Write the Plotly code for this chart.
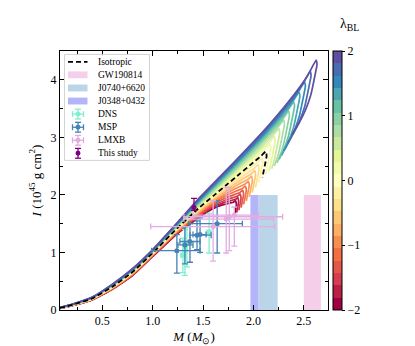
import plotly.graph_objects as go
import plotly.colors as pc

# ---------------- data ----------------
lam = [-2.0, -1.8, -1.6, -1.4, -1.2, -1.0, -0.8, -0.6, -0.4, -0.2, 0.0,
       0.2, 0.4, 0.6, 0.8, 1.0, 1.2, 1.4, 1.6, 1.8, 2.0]
# maximum-mass point of every curve
m_max = [1.830, 1.852, 1.876, 1.901, 1.928, 1.957, 1.988, 2.020, 2.055, 2.091, 2.130,
         2.171, 2.215, 2.260, 2.307, 2.356, 2.407, 2.460, 2.515, 2.571, 2.630]
i_max = [1.900, 1.953, 2.013, 2.080, 2.154, 2.236, 2.325, 2.422, 2.526, 2.637, 2.755,
         2.881, 3.014, 3.154, 3.301, 3.456, 3.618, 3.788, 3.965, 4.149, 4.340]
# stable branch read at fixed masses
m_grid = [0.08, 0.2, 0.4, 0.6, 0.8, 1.0, 1.24, 1.47]
i_m008 = [0.028, 0.029, 0.030, 0.030, 0.031, 0.032, 0.033, 0.034, 0.034, 0.035, 0.036,
          0.037, 0.038, 0.039, 0.039, 0.040, 0.041, 0.042, 0.043, 0.044, 0.045]
i_m020 = [0.075, 0.07625, 0.0775, 0.07875, 0.080, 0.08125, 0.0825, 0.08375, 0.085, 0.08625, 0.0875,
          0.08875, 0.090, 0.09125, 0.0925, 0.09375, 0.095, 0.09625, 0.0975, 0.09875, 0.100]
i_m040 = [0.175, 0.1775, 0.180, 0.1825, 0.185, 0.1875, 0.190, 0.1925, 0.195, 0.1975, 0.200,
          0.2025, 0.205, 0.2075, 0.210, 0.2125, 0.215, 0.2175, 0.220, 0.2225, 0.225]
i_m060 = [0.360, 0.3645, 0.369, 0.3735, 0.378, 0.3825, 0.387, 0.3915, 0.396, 0.4005, 0.405,
          0.4095, 0.414, 0.4185, 0.423, 0.4275, 0.432, 0.4365, 0.441, 0.4455, 0.450]
i_m080 = [0.600, 0.606, 0.612, 0.618, 0.624, 0.630, 0.636, 0.642, 0.648, 0.654, 0.660,
          0.666, 0.672, 0.678, 0.684, 0.690, 0.696, 0.702, 0.708, 0.714, 0.720]
i_m100 = [0.930, 0.936, 0.942, 0.948, 0.954, 0.960, 0.966, 0.972, 0.978, 0.984, 0.990,
          0.996, 1.002, 1.008, 1.014, 1.020, 1.026, 1.032, 1.038, 1.044, 1.050]
i_m124 = [1.320, 1.3295, 1.339, 1.3485, 1.358, 1.3675, 1.377, 1.3865, 1.396, 1.4055, 1.415,
          1.4245, 1.434, 1.4435, 1.453, 1.4625, 1.472, 1.4815, 1.491, 1.5005, 1.510]
i_m147 = [1.620, 1.637, 1.654, 1.671, 1.688, 1.705, 1.722, 1.739, 1.756, 1.773, 1.790,
          1.807, 1.824, 1.841, 1.858, 1.875, 1.892, 1.909, 1.926, 1.943, 1.960]
# shape of the approach from M=1.47 to maximum mass (fractions), soft / isotropic / stiff
approach_t = [0.20, 0.40, 0.60, 0.80, 0.92]
approach_g_soft = [0.30, 0.55, 0.72, 0.84, 0.90]
approach_g_iso = [0.20, 0.40, 0.60, 0.80, 0.92]
approach_g_stiff = [0.176, 0.353, 0.538, 0.744, 0.887]
# rounded tip and unstable branch (offsets below / left of the maximum)
tip_dm = [0.008, 0.001, 0.0]
tip_di = [0.0, 0.04, 0.09]
hook_di = [0.09, 0.20, 0.40, 0.60, 0.85, 1.10, 1.30, 1.60]
hook_dm = [0.000, 0.012, 0.035, 0.060, 0.110, 0.180, 0.250, 0.360]
hook_depth = [0.25, 0.26, 0.28, 0.30, 0.32, 0.34, 0.36, 0.38, 0.40, 0.42, 0.45,
              0.52, 0.60, 0.70, 0.80, 0.90, 1.00, 1.10, 1.20, 1.25, 1.30]
iso_index = 10  # lambda_BL = 0 is the isotropic star

band_names = ["GW190814", "J0740+6620", "J0348+0432"]
band_lo = [2.50, 2.05, 1.97]
band_hi = [2.67, 2.24, 2.05]
band_top = [2.0, 2.0, 2.0]
band_colors = ["rgb(245,207,233)", "rgb(186,212,232)", "rgb(180,180,248)"]

dns_m = [1.32, 1.34, 1.56, 1.30]
dns_i = [1.05, 1.15, 1.35, 0.95]
dns_mlo = [0.02, 0.03, 0.02, 0.02]
dns_mhi = [0.02, 0.03, 0.02, 0.02]
dns_ilo = [0.45, 0.40, 0.36, 0.30]
dns_ihi = [0.35, 0.30, 0.33, 0.30]

msp_m = [1.24, 1.64, 1.32, 1.37, 1.44, 1.47]
msp_i = [1.03, 1.50, 1.13, 1.19, 1.30, 1.31]
msp_mlo = [0.25, 0.28, 0.07, 0.10, 0.07, 0.07]
msp_mhi = [0.23, 0.25, 0.08, 0.10, 0.14, 0.06]
msp_ilo = [0.39, 0.51, 0.33, 0.36, 0.25, 0.31]
msp_ihi = [0.28, 0.40, 0.32, 0.31, 0.25, 0.29]

lmxb_m = [1.60, 1.73, 1.76, 1.81]
lmxb_i = [1.45, 1.58, 1.62, 1.65]
lmxb_mlo = [0.62, 0.42, 0.45, 0.41]
lmxb_mhi = [0.61, 0.47, 0.53, 0.24]
lmxb_ilo = [0.60, 0.59, 0.59, 0.54]
lmxb_ihi = [0.45, 0.55, 0.51, 0.14]

this_m = [1.41]
this_i = [1.78]
this_ilo = [0.05]
this_ihi = [0.16]

legend_labels = ["Isotropic", "GW190814", "J0740+6620", "J0348+0432", "DNS", "MSP", "LMXB", "This study"]

FONT = "Liberation Serif"
spectral = pc.diverging.Spectral
C_DNS, C_MSP, C_LMXB, C_THIS = "rgb(127,240,205)", "rgb(70,130,180)", "rgb(226,172,226)", "rgb(128,0,128)"

PX_L, PX_R, PX_T, PX_B = 52, 320, 43, 307
def xp(px):
    return (px - PX_L) / (PX_R - PX_L)
def yp(py):
    return (PX_B - py) / (PX_B - PX_T)


def curve_points(k):
    Mm, Im = m_max[k], i_max[k]
    lows = [i_m008[k], i_m020[k], i_m040[k], i_m060[k], i_m080[k], i_m100[k], i_m124[k], i_m147[k]]
    xs, ys = list(m_grid), list(lows)
    l = lam[k]
    g = []
    for gs, gi, gh in zip(approach_g_soft, approach_g_iso, approach_g_stiff):
        g.append(gi + (gs - gi) * max(0.0, -l / 2) + (gh - gi) * max(0.0, l / 2))
    dM, dI = Mm - m_grid[-1], Im - lows[-1]
    for t, gg in zip(approach_t, g):
        xs.append(m_grid[-1] + t * dM); ys.append(lows[-1] + gg * dI)
    for dm, di in zip(tip_dm, tip_di):
        xs.append(Mm - dm); ys.append(Im - di)
    d = hook_depth[k]
    for j in range(1, len(hook_di)):
        if hook_di[j] <= d:
            xs.append(Mm - hook_dm[j]); ys.append(Im - hook_di[j])
        else:
            a = (d - hook_di[j - 1]) / (hook_di[j] - hook_di[j - 1])
            xs.append(Mm - (hook_dm[j - 1] + a * (hook_dm[j] - hook_dm[j - 1]))); ys.append(Im - d)
            break
    return xs, ys


fig = go.Figure()
for name, lo, hi, top, col in zip(band_names, band_lo, band_hi, band_top, band_colors):
    fig.add_trace(go.Scatter(x=[lo, hi, hi, lo, lo], y=[0, 0, top, top, 0], fill="toself",
                             fillcolor=col, line=dict(width=0), mode="lines", showlegend=False, hoverinfo="skip"))

for k in range(len(lam)):
    f = (lam[k] - lam[0]) / (lam[-1] - lam[0])
    col = pc.sample_colorscale(spectral, [f])[0]
    xs, ys = curve_points(k)
    fig.add_trace(go.Scatter(x=xs, y=ys, mode="lines",
                             line=dict(color=col, width=1.7, shape="spline", smoothing=0.4),
                             showlegend=False, hoverinfo="skip"))

xs, ys = curve_points(iso_index)
fig.add_trace(go.Scatter(x=xs, y=ys, mode="lines", showlegend=False, hoverinfo="skip",
                         line=dict(color="black", width=1.8, dash="5px,3px", shape="spline", smoothing=0.4)))


def ebar(mx, iy, mlo, mhi, ilo, ihi, col):
    ex = dict(type="data", symmetric=False, array=mhi, arrayminus=mlo, color=col, thickness=1.3, width=3) if mlo is not None else None
    ey = dict(type="data", symmetric=False, array=ihi, arrayminus=ilo, color=col, thickness=1.3, width=3)
    return go.Scatter(x=mx, y=iy, mode="markers", marker=dict(color=col, size=5), showlegend=False,
                      hoverinfo="skip", error_x=ex, error_y=ey)

fig.add_trace(ebar(dns_m, dns_i, dns_mlo, dns_mhi, dns_ilo, dns_ihi, C_DNS))
fig.add_trace(ebar(msp_m, msp_i, msp_mlo, msp_mhi, msp_ilo, msp_ihi, C_MSP))
fig.add_trace(ebar(lmxb_m, lmxb_i, lmxb_mlo, lmxb_mhi, lmxb_ilo, lmxb_ihi, C_LMXB))
fig.add_trace(ebar(this_m, this_i, None, None, this_ilo, this_ihi, C_THIS))

nb = len(lam)
cs = []
for i in range(nb):
    c = pc.sample_colorscale(spectral, [i / (nb - 1)])[0]
    cs.append([i / nb, c]); cs.append([(i + 1) / nb, c])
fig.add_trace(go.Scatter(x=[None], y=[None], mode="markers", showlegend=False, hoverinfo="skip",
                         marker=dict(color=[lam[0]], cmin=lam[0], cmax=lam[-1], colorscale=cs, showscale=True,
                                     colorbar=dict(x=xp(325), xanchor="left", xpad=0, ypad=0,
                                                   y=0.5, yanchor="middle", len=1.0, thickness=9,
                                                   outlinecolor="black", outlinewidth=1,
                                                   tickvals=[-2, -1, 0, 1, 2], ticktext=["−2", "−1", "0", "1", "2"],
                                                   ticks="outside", ticklen=3, tickcolor="black",
                                                   tickfont=dict(family=FONT, size=12, color="black")))))

shapes, annos = [], []
bx0, bx1, by0, by1 = 56.5, 141.5, 46.5, 154.5
shapes.append(dict(type="rect", xref="paper", yref="paper", x0=xp(bx0), x1=xp(bx1), y0=yp(by1), y1=yp(by0),
                   line=dict(color="#d3d3d3", width=1), fillcolor="rgba(255,255,255,0.85)", layer="above"))
row_y = [54, 67.3, 80.7, 94, 107.3, 120.7, 134, 147.3]
gx0, gx1, gxc, tx = 60, 79.5, 70, 87.5
for lbl, ry in zip(legend_labels, row_y):
    annos.append(dict(x=xp(tx), y=yp(ry), xref="paper", yref="paper", text=lbl, showarrow=False,
                      xanchor="left", yanchor="middle", font=dict(family=FONT, size=9.5, color="black")))
shapes.append(dict(type="line", xref="paper", yref="paper", x0=xp(gx0), x1=xp(gx1), y0=yp(row_y[0]), y1=yp(row_y[0]),
                   line=dict(color="black", width=1.8, dash="5px,3px"), layer="above"))
for ry, col in zip(row_y[1:4], band_colors):
    shapes.append(dict(type="rect", xref="paper", yref="paper", x0=xp(gx0), x1=xp(gx1), y0=yp(ry + 3.5), y1=yp(ry - 3.5),
                       line=dict(width=0), fillcolor=col, layer="above"))
for ry, col, horiz in zip(row_y[4:], [C_DNS, C_MSP, C_LMXB, C_THIS], [True, True, True, False]):
    vl = dict(color=col, width=1.3)
    shapes.append(dict(type="line", xref="paper", yref="paper", x0=xp(gxc), x1=xp(gxc), y0=yp(ry + 5), y1=yp(ry - 5), line=vl, layer="above"))
    for cy in (ry + 5, ry - 5):
        shapes.append(dict(type="line", xref="paper", yref="paper", x0=xp(gxc - 3), x1=xp(gxc + 3), y0=yp(cy), y1=yp(cy), line=vl, layer="above"))
    if horiz:
        shapes.append(dict(type="line", xref="paper", yref="paper", x0=xp(gxc - 5.5), x1=xp(gxc + 5.5), y0=yp(ry), y1=yp(ry), line=vl, layer="above"))
        for cx in (gxc - 5.5, gxc + 5.5):
            shapes.append(dict(type="line", xref="paper", yref="paper", x0=xp(cx), x1=xp(cx), y0=yp(ry + 3), y1=yp(ry - 3), line=vl, layer="above"))
    shapes.append(dict(type="circle", xref="paper", yref="paper", x0=xp(gxc - 2.5), x1=xp(gxc + 2.5), y0=yp(ry + 2.5), y1=yp(ry - 2.5),
                       line=dict(width=0), fillcolor=col, layer="above"))

annos.append(dict(x=xp(341), y=yp(16), xref="paper", yref="paper", text="λ<sub>BL</sub>", showarrow=False,
                  xanchor="center", yanchor="middle", font=dict(family=FONT, size=14, color="black")))

axis_common = dict(showline=True, linecolor="black", linewidth=1, mirror="ticks", ticks="inside",
                   ticklen=5, tickcolor="black", showgrid=False, zeroline=False,
                   tickfont=dict(family=FONT, size=12, color="black"))
fig.update_layout(
    width=415, height=346, margin=dict(l=PX_L, r=415 - PX_R, t=PX_T, b=346 - PX_B),
    paper_bgcolor="white", plot_bgcolor="white", showlegend=False,
    font=dict(family=FONT, color="black"),
    xaxis=dict(range=[0.08, 2.74], tickvals=[0.5, 1.0, 1.5, 2.0, 2.5], ticktext=["0.5", "1.0", "1.5", "2.0", "2.5"],
               minor=dict(dtick=0.25, tick0=0, ticks="inside", ticklen=3, tickcolor="black"),
               title=dict(text="<i>M</i> (<i>M</i><sub>⊙</sub>)", font=dict(family=FONT, size=13), standoff=4),
               **axis_common),
    yaxis=dict(range=[0, 4.5], tickvals=[0, 1, 2, 3, 4],
               minor=dict(dtick=0.5, tick0=0, ticks="inside", ticklen=3, tickcolor="black"),
               title=dict(text="<i>I</i> (10<sup>45</sup> g cm<sup>2</sup>)", font=dict(family=FONT, size=13), standoff=6),
               **axis_common),
    shapes=shapes, annotations=annos,
)

fig.write_html("out.html")
